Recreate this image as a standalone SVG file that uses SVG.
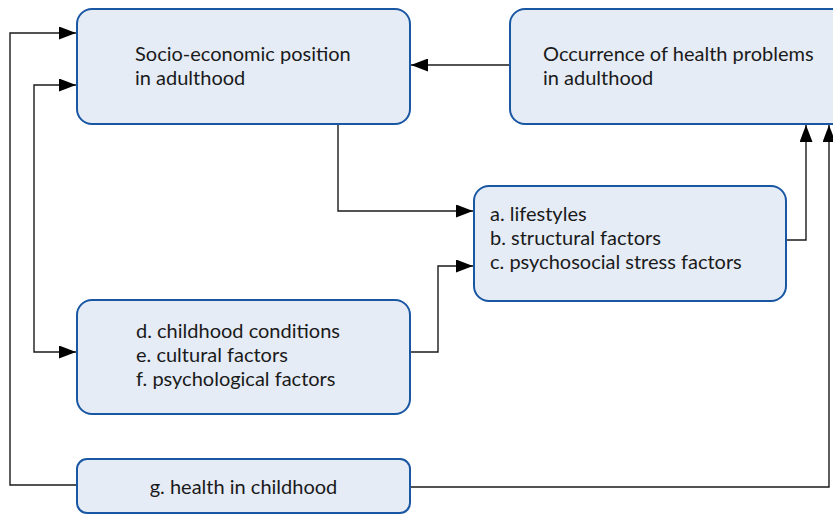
<svg xmlns="http://www.w3.org/2000/svg" width="833" height="514" viewBox="0 0 833 514">
<defs>
<style>
.box{fill:#e5ecf6;stroke:#1a57a3;stroke-width:2}
.t{font-family:Lato,"Noto Sans",sans-serif;font-size:20px;fill:#1a1a1a}
.c{fill:none;stroke:#1a1a1a;stroke-width:1.4}
</style>
<marker id="ah" viewBox="0 0 17 13" refX="17" refY="6.5" markerWidth="17" markerHeight="13" markerUnits="userSpaceOnUse" orient="auto-start-reverse">
<path d="M0,0 L17,6.5 L0,13 Z" fill="#000"/>
</marker>
</defs>
<rect width="833" height="514" fill="#fff"/>
<g id="connectors">
<path class="c" d="M510,65 H411" marker-end="url(#ah)"/>
<path class="c" d="M77,485 H10 V33 H76" marker-end="url(#ah)"/>
<path class="c" d="M76,85 H34 V352 H76" marker-start="url(#ah)" marker-end="url(#ah)"/>
<path class="c" d="M338,124 V211 H473" marker-end="url(#ah)"/>
<path class="c" d="M410,352 H438 V266 H473" marker-end="url(#ah)"/>
<path class="c" d="M786,240 H806 V125" marker-end="url(#ah)"/>
<path class="c" d="M410,487 H829 V125" marker-end="url(#ah)"/>
</g>
<g id="node-sep">
<rect class="box" x="77" y="9" width="333" height="115" rx="15"/>
<text class="t" x="135" y="61">Socio-economic position</text>
<text class="t" x="135" y="85">in adulthood</text>
</g>
<g id="node-health">
<rect class="box" x="510" y="9" width="340" height="115" rx="15"/>
<text class="t" x="543" y="61">Occurrence of health problems</text>
<text class="t" x="543" y="85">in adulthood</text>
</g>
<g id="node-abc">
<rect class="box" x="474" y="186" width="312" height="115" rx="15"/>
<text class="t" x="490" y="221">a. lifestyles</text>
<text class="t" x="490" y="245">b. structural factors</text>
<text class="t" x="490" y="269">c. psychosocial stress factors</text>
</g>
<g id="node-def">
<rect class="box" x="77" y="300" width="333" height="114" rx="15"/>
<text class="t" x="136" y="338">d. childhood conditions</text>
<text class="t" x="136" y="362">e. cultural factors</text>
<text class="t" x="136" y="386">f. psychological factors</text>
</g>
<g id="node-g">
<rect class="box" x="77" y="459" width="333" height="54" rx="10"/>
<text class="t" x="243.5" y="494" text-anchor="middle">g. health in childhood</text>
</g>
</svg>
